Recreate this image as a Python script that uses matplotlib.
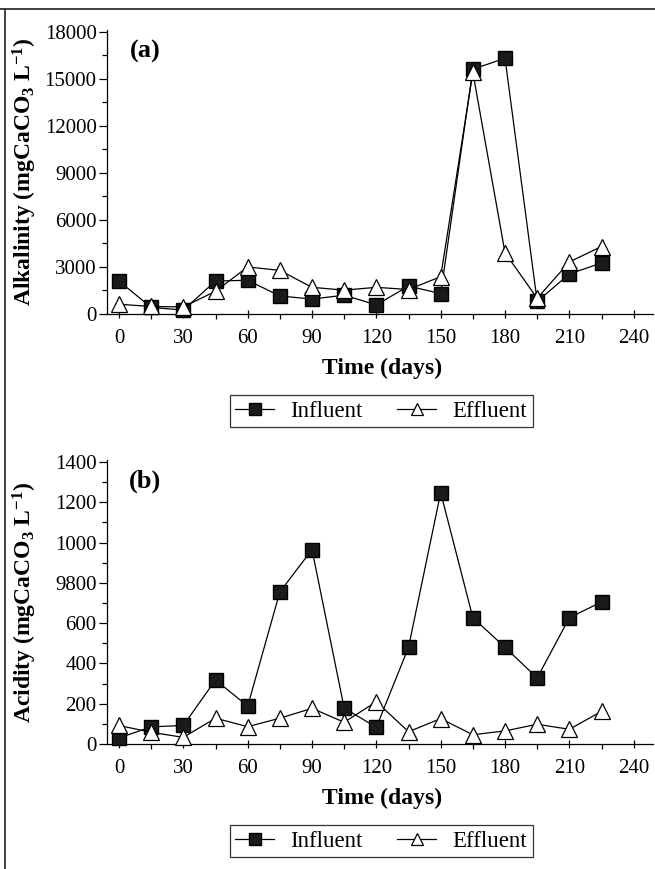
import numpy as np
import matplotlib
matplotlib.use('Agg')
import matplotlib.pyplot as plt
from matplotlib.lines import Line2D

plt.rcParams['font.family'] = ['Liberation Serif', 'DejaVu Serif']
plt.rcParams['mathtext.fontset'] = 'custom'
plt.rcParams['mathtext.rm'] = 'Liberation Serif'
plt.rcParams['mathtext.bf'] = 'Liberation Serif:bold'
plt.rcParams['mathtext.default'] = 'bf'

# data
days = [0, 15, 30, 45, 60, 75, 90, 105, 120, 135, 150, 165, 180, 195, 210, 225]

alk_influent = [2100, 420, 250, 2100, 2150, 1150, 950, 1200, 580, 1780, 1300,
                15600, 16300, 800, 2550, 3250]
alk_effluent = [620, 480, 450, 1450, 3000, 2780, 1700, 1520, 1700, 1560, 2380,
                15400, 3900, 1000, 3320, 4300]

acid_influent = [30, 85, 92, 318, 188, 755, 965, 178, 83, 480, 1248,
                 627, 480, 328, 627, 705]
acid_effluent = [92, 58, 33, 128, 86, 128, 177, 108, 210, 61, 126,
                 46, 65, 98, 73, 162]

alk_ticks = [0, 3000, 6000, 9000, 12000, 15000, 18000]
acid_ticks = [0, 200, 400, 600, 800, 1000, 1200, 1400]
acid_ticklabels = ['0', '200', '400', '600', '9800', '1000', '1200', '1400']
x_ticks = [0, 30, 60, 90, 120, 150, 180, 210, 240]

fig = plt.figure(figsize=(6.55, 8.69), dpi=100)

# outer frame (top and left only)
fig.add_artist(Line2D([0, 1], [1 - 8.5 / 869, 1 - 8.5 / 869], transform=fig.transFigure,
                      color='#333333', lw=1.3))
fig.add_artist(Line2D([5 / 655, 5 / 655], [0, 1 - 8.5 / 869], transform=fig.transFigure,
                      color='#333333', lw=1.3))

ax_a = fig.add_axes([107 / 655, 1 - 314 / 869, 546 / 655, 284 / 869])
ax_b = fig.add_axes([107 / 655, 1 - 744 / 869, 546 / 655, 284 / 869])

panels = [
    (ax_a, alk_influent, alk_effluent, alk_ticks, [str(t) for t in alk_ticks], 1500,
     (0, 18100), '(a)', r'Alkalinity (mgCaCO$_3$ L$^{-1}$)'),
    (ax_b, acid_influent, acid_effluent, acid_ticks, acid_ticklabels, 100,
     (0, 1410), '(b)', r'Acidity (mgCaCO$_3$ L$^{-1}$)'),
]

for ax, inf, eff, yt, ytl, ymin, ylim, tag, ylab in panels:
    ax.plot(days, inf, '-s', color='black', lw=0.9, ms=9.5,
            mfc='#1a1a1a', mec='black', label='Influent', clip_on=False, zorder=3)
    ax.plot(days, eff, '-^', color='black', lw=0.9, ms=11,
            mfc='white', mec='black', mew=0.9, label='Effluent', clip_on=False, zorder=4)

    ax.set_xlim(-5.6, 249)
    ax.set_ylim(*ylim)
    ax.set_xticks(x_ticks)
    ax.set_xticks(np.arange(15, 250, 30), minor=True)
    ax.set_yticks(yt)
    ax.set_yticklabels(ytl)
    ax.set_yticks(np.arange(ymin, ylim[1], ymin * 2), minor=True)

    for s in ['top', 'right']:
        ax.spines[s].set_visible(False)
    for s in ['left', 'bottom']:
        ax.spines[s].set_linewidth(0.9)

    ax.tick_params(axis='both', which='major', labelsize=15, width=0.9)
    ax.tick_params(axis='y', which='major', direction='out', length=6, pad=1.5)
    ax.tick_params(axis='y', which='minor', direction='out', length=3.5, width=0.9)
    ax.tick_params(axis='x', which='major', direction='inout', length=6, pad=8)
    ax.tick_params(axis='x', which='minor', direction='out', length=3.5, width=0.9)

    ax.text(0.07, 0.925, tag, fontsize=19, fontweight='bold', ha='center', va='center',
            transform=ax.transAxes)

    ax.set_ylabel(ylab, fontsize=17, fontweight='bold')
    ax.yaxis.set_label_coords(-0.124, 0.5)
    ax.set_xlabel('Time (days)', fontsize=17, fontweight='bold')
    ax.xaxis.set_label_coords(0.504, -0.155)

    leg = ax.legend(loc='center', bbox_to_anchor=(0.502, -0.342), ncol=2,
                    fontsize=16.5, frameon=True, fancybox=False, handlelength=1.7,
                    columnspacing=1.5, handletextpad=0.7, borderpad=0.25,
                    edgecolor='black')
    leg.get_frame().set_linewidth(0.9)
    for h in leg.legend_handles:
        h.set_markersize(9)

fig.savefig('out.png', dpi=100)
